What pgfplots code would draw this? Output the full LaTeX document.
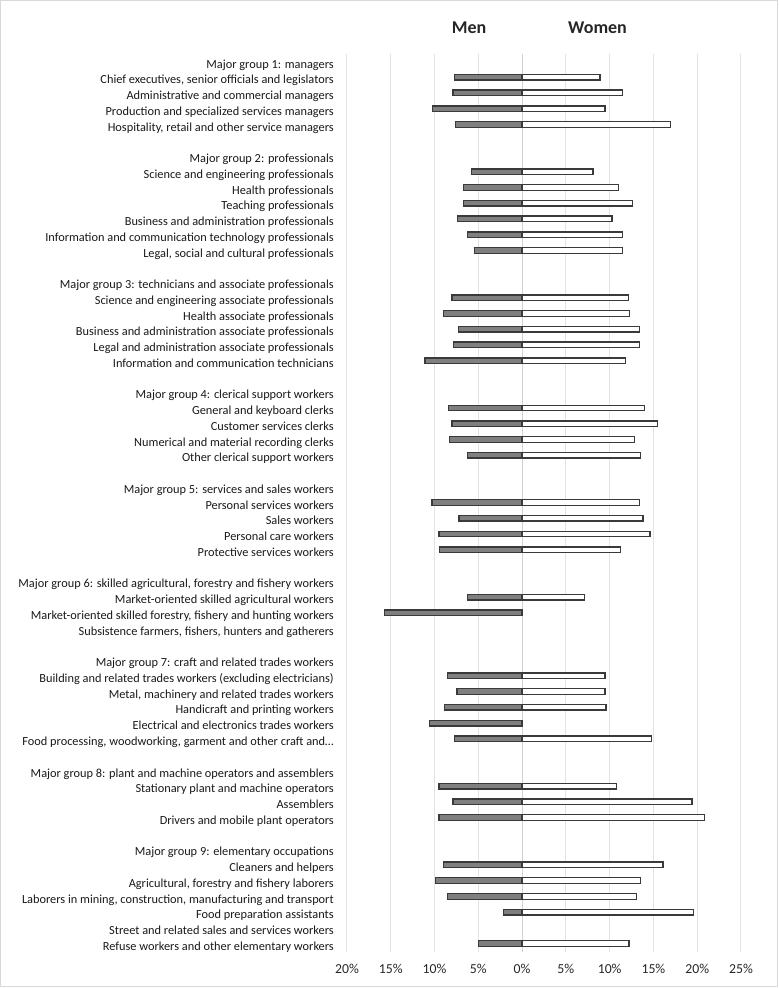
\documentclass[border=0pt]{standalone}
\usepackage{fontspec}
\setmainfont{Carlito}
\usepackage{pgfplots}
\pgfplotsset{compat=1.18}
\definecolor{mengray}{HTML}{7F7F7F}
\definecolor{bardraw}{HTML}{3A3A3A}
\definecolor{gridc}{HTML}{E3E3E3}
\definecolor{zeroc}{HTML}{D0D0D0}
\definecolor{framec}{HTML}{D9D9D9}

\begin{document}
\begin{tikzpicture}
\useasboundingbox (-260.25pt,-27.375pt) rectangle (323.25pt,713.625pt);
\draw[framec, line width=0.75pt] (-259.5pt,-26.6pt) rectangle (322.5pt,712.9pt);
\begin{axis}[
    at={(0,0)}, anchor=south west,
    scale only axis, width=295.5pt, height=673.5pt,
    xmin=-20, xmax=25, ymin=-0.5, ymax=56.5,
    y dir=reverse,
    xtick={-20,-15,...,25},
    xticklabels={20\%,15\%,10\%,5\%,0\%,5\%,10\%,15\%,20\%,25\%},
    extra x ticks={0}, extra x tick labels={},
    extra x tick style={grid style={zeroc, line width=0.75pt}},
    ytick={0,...,56},
    yticklabels={
      {Major group 1: managers},
      {Chief executives, senior officials and legislators},
      {Administrative and commercial managers},
      {Production and specialized services managers},
      {Hospitality, retail and other service managers},
      {},
      {Major group 2: professionals},
      {Science and engineering professionals},
      {Health professionals},
      {Teaching professionals},
      {Business and administration professionals},
      {Information and communication technology professionals},
      {Legal, social and cultural professionals},
      {},
      {Major group 3: technicians and associate professionals},
      {Science and engineering associate professionals},
      {Health associate professionals},
      {Business and administration associate professionals},
      {Legal and administration associate professionals},
      {Information and communication technicians},
      {},
      {Major group 4: clerical support workers},
      {General and keyboard clerks},
      {Customer services clerks},
      {Numerical and material recording clerks},
      {Other clerical support workers},
      {},
      {Major group 5: services and sales workers},
      {Personal services workers},
      {Sales workers},
      {Personal care workers},
      {Protective services workers},
      {},
      {Major group 6: skilled agricultural, forestry and fishery workers},
      {Market-oriented skilled agricultural workers},
      {Market-oriented skilled forestry, fishery and hunting workers},
      {Subsistence farmers, fishers, hunters and gatherers},
      {},
      {Major group 7: craft and related trades workers},
      {Building and related trades workers (excluding electricians)},
      {Metal, machinery and related trades workers},
      {Handicraft and printing workers},
      {Electrical and electronics trades workers},
      {Food processing, woodworking, garment and other craft and…},
      {},
      {Major group 8: plant and machine operators and assemblers},
      {Stationary plant and machine operators},
      {Assemblers},
      {Drivers and mobile plant operators},
      {},
      {Major group 9: elementary occupations},
      {Cleaners and helpers},
      {Agricultural, forestry and fishery laborers},
      {Laborers in mining, construction, manufacturing and transport},
      {Food preparation assistants},
      {Street and related sales and services workers},
      {Refuse workers and other elementary workers}
    },
    axis line style={draw=none},
    tick style={draw=none},
    xmajorgrids,
    grid style={gridc, line width=0.75pt},
    xticklabel style={font=\fontsize{10.3}{12}\selectfont, text=black!85, anchor=center, yshift=-13.1pt},
    yticklabel style={font=\fontsize{9.25}{11}\selectfont, text=black!90, anchor=base east, inner sep=0pt, xshift=-9.75pt, yshift=-5pt},
]
% men (negative side)
\addplot[xbar, bar shift=0pt, bar width=4.2pt, fill=mengray, draw=bardraw, line width=1pt] coordinates {
  (-7.7,1) (-7.9,2) (-10.2,3) (-7.6,4)
  (-5.8,7) (-6.7,8) (-6.7,9) (-7.35,10) (-6.25,11) (-5.45,12)
  (-8.0,15) (-8.95,16) (-7.3,17) (-7.85,18) (-11.1,19)
  (-8.4,22) (-8.0,23) (-8.3,24) (-6.25,25)
  (-10.3,28) (-7.2,29) (-9.5,30) (-9.4,31)
  (-6.25,34) (-15.75,35)
  (-8.55,39) (-7.45,40) (-8.85,41) (-10.6,42) (-7.75,43)
  (-9.5,46) (-7.9,47) (-9.5,48)
  (-8.95,51) (-9.9,52) (-8.55,53) (-2.15,54) (-5.0,56)
};
% women (positive side)
\addplot[xbar, bar shift=0pt, bar width=4.2pt, fill=white, draw=bardraw, line width=1pt] coordinates {
  (8.9,1) (11.5,2) (9.45,3) (16.95,4)
  (8.1,7) (11.0,8) (12.6,9) (10.25,10) (11.5,11) (11.5,12)
  (12.15,15) (12.3,16) (13.4,17) (13.4,18) (11.8,19)
  (13.95,22) (15.45,23) (12.85,24) (13.5,25)
  (13.4,28) (13.8,29) (14.6,30) (11.25,31)
  (7.1,34)
  (9.45,39) (9.45,40) (9.6,41) (14.8,43)
  (10.8,46) (19.4,47) (20.8,48)
  (16.1,51) (13.5,52) (13.1,53) (19.55,54) (12.2,56)
};
\end{axis}
\node[font=\fontsize{13.5}{16}\selectfont\bfseries, text=black!85, anchor=base] at (91.5pt,688.6pt) {Men};
\node[font=\fontsize{13.5}{16}\selectfont\bfseries, text=black!85, anchor=base] at (187.9pt,688.6pt) {Women};
\end{tikzpicture}
\end{document}
